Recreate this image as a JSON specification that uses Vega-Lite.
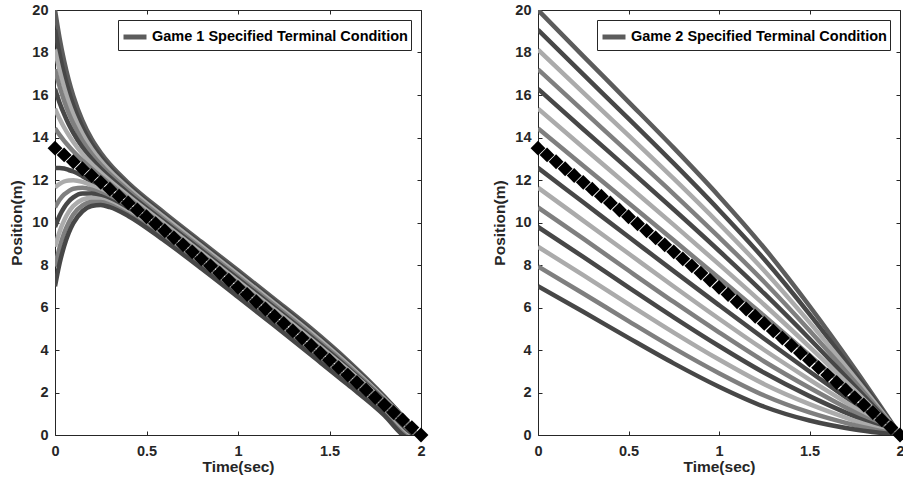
{
"$schema": "https://vega.github.io/schema/vega-lite/v6.json",
"background": "white",
"padding": {"left": 9, "top": 2, "right": 0, "bottom": 0},
"spacing": 63,
"config": {
  "view": {"stroke": null},
  "font": "Liberation Sans",
  "axis": {"grid": false, "domainColor": "#262626", "tickColor": "#262626", "labelColor": "#262626", "titleColor": "#262626", "labelFont": "Liberation Sans", "titleFont": "Liberation Sans", "labelFontWeight": "bold", "titleFontWeight": "bold", "labelFontSize": 14.5, "titleFontSize": 15.5, "tickSize": -4, "labelFlush": false, "labelOverlap": false, "domainWidth": 1, "tickWidth": 1},
  "axisX": {"labelPadding": 13, "titlePadding": 2},
  "axisY": {"labelPadding": 11, "titlePadding": 7},
  "legend": {"orient": "top-right", "offset": 10, "padding": 3, "strokeColor": "#262626", "fillColor": "white", "symbolType": "stroke", "symbolSize": 529, "symbolStrokeWidth": 5, "labelFont": "Liberation Sans", "labelFontWeight": "bold", "labelFontSize": 14.5, "labelColor": "black", "labelLimit": 400, "labelOffset": 3}
},
"datasets": {
"dia": [
{"t":0,"v":13.5},{"t":0.05,"v":13.18},{"t":0.1,"v":12.86},{"t":0.15,"v":12.53},{"t":0.2,"v":12.21},{"t":0.25,"v":11.89},{"t":0.3,"v":11.57},{"t":0.35,"v":11.24},{"t":0.4,"v":10.92},{"t":0.45,"v":10.59},{"t":0.5,"v":10.27},{"t":0.55,"v":9.94},{"t":0.6,"v":9.61},{"t":0.65,"v":9.28},{"t":0.7,"v":8.95},{"t":0.75,"v":8.62},{"t":0.8,"v":8.29},{"t":0.85,"v":7.96},{"t":0.9,"v":7.62},{"t":0.95,"v":7.29},{"t":1,"v":6.95},{"t":1.05,"v":6.61},{"t":1.1,"v":6.27},{"t":1.15,"v":5.93},{"t":1.2,"v":5.59},{"t":1.25,"v":5.25},{"t":1.3,"v":4.9},{"t":1.35,"v":4.56},{"t":1.4,"v":4.21},{"t":1.45,"v":3.86},{"t":1.5,"v":3.52},{"t":1.55,"v":3.17},{"t":1.6,"v":2.82},{"t":1.65,"v":2.47},{"t":1.7,"v":2.12},{"t":1.75,"v":1.76},{"t":1.8,"v":1.41},{"t":1.85,"v":1.06},{"t":1.9,"v":0.71},{"t":1.95,"v":0.35},{"t":2,"v":0}
],
"g1": [
{"c":14,"t":0,"v":20},{"c":14,"t":0.025,"v":18.68},{"c":14,"t":0.05,"v":17.6},{"c":14,"t":0.075,"v":16.7},{"c":14,"t":0.1,"v":15.96},{"c":14,"t":0.15,"v":14.79},{"c":14,"t":0.2,"v":13.93},{"c":14,"t":0.25,"v":13.28},{"c":14,"t":0.3,"v":12.74},{"c":14,"t":0.4,"v":11.87},{"c":14,"t":0.6,"v":10.44},{"c":14,"t":0.8,"v":9.09},{"c":14,"t":1,"v":7.75},{"c":14,"t":1.2,"v":6.39},{"c":14,"t":1.4,"v":5.01},{"c":14,"t":1.6,"v":3.5},{"c":14,"t":1.8,"v":1.81},{"c":14,"t":1.9,"v":0.87},{"c":14,"t":2,"v":-0.25},
{"c":13,"t":0,"v":19.07},{"c":13,"t":0.025,"v":17.92},{"c":13,"t":0.05,"v":16.97},{"c":13,"t":0.075,"v":16.18},{"c":13,"t":0.1,"v":15.52},{"c":13,"t":0.15,"v":14.48},{"c":13,"t":0.2,"v":13.7},{"c":13,"t":0.25,"v":13.09},{"c":13,"t":0.3,"v":12.59},{"c":13,"t":0.4,"v":11.75},{"c":13,"t":0.6,"v":10.33},{"c":13,"t":0.8,"v":8.99},{"c":13,"t":1,"v":7.65},{"c":13,"t":1.2,"v":6.29},{"c":13,"t":1.4,"v":4.91},{"c":13,"t":1.6,"v":3.42},{"c":13,"t":1.8,"v":1.76},{"c":13,"t":1.9,"v":0.85},{"c":13,"t":2,"v":-0.25},
{"c":12,"t":0,"v":18.14},{"c":12,"t":0.025,"v":17.16},{"c":12,"t":0.05,"v":16.35},{"c":12,"t":0.075,"v":15.66},{"c":12,"t":0.1,"v":15.09},{"c":12,"t":0.15,"v":14.17},{"c":12,"t":0.2,"v":13.47},{"c":12,"t":0.25,"v":12.91},{"c":12,"t":0.3,"v":12.43},{"c":12,"t":0.4,"v":11.63},{"c":12,"t":0.6,"v":10.23},{"c":12,"t":0.8,"v":8.89},{"c":12,"t":1,"v":7.55},{"c":12,"t":1.2,"v":6.19},{"c":12,"t":1.4,"v":4.81},{"c":12,"t":1.6,"v":3.33},{"c":12,"t":1.8,"v":1.71},{"c":12,"t":1.9,"v":0.83},{"c":12,"t":2,"v":-0.25},
{"c":11,"t":0,"v":17.21},{"c":11,"t":0.025,"v":16.4},{"c":11,"t":0.05,"v":15.72},{"c":11,"t":0.075,"v":15.14},{"c":11,"t":0.1,"v":14.66},{"c":11,"t":0.15,"v":13.85},{"c":11,"t":0.2,"v":13.23},{"c":11,"t":0.25,"v":12.72},{"c":11,"t":0.3,"v":12.28},{"c":11,"t":0.4,"v":11.51},{"c":11,"t":0.6,"v":10.12},{"c":11,"t":0.8,"v":8.79},{"c":11,"t":1,"v":7.45},{"c":11,"t":1.2,"v":6.09},{"c":11,"t":1.4,"v":4.71},{"c":11,"t":1.6,"v":3.25},{"c":11,"t":1.8,"v":1.66},{"c":11,"t":1.9,"v":0.81},{"c":11,"t":2,"v":-0.25},
{"c":10,"t":0,"v":16.29},{"c":10,"t":0.025,"v":15.64},{"c":10,"t":0.05,"v":15.1},{"c":10,"t":0.075,"v":14.62},{"c":10,"t":0.1,"v":14.22},{"c":10,"t":0.15,"v":13.54},{"c":10,"t":0.2,"v":13},{"c":10,"t":0.25,"v":12.54},{"c":10,"t":0.3,"v":12.13},{"c":10,"t":0.4,"v":11.38},{"c":10,"t":0.6,"v":10.02},{"c":10,"t":0.8,"v":8.69},{"c":10,"t":1,"v":7.35},{"c":10,"t":1.2,"v":5.99},{"c":10,"t":1.4,"v":4.61},{"c":10,"t":1.6,"v":3.16},{"c":10,"t":1.8,"v":1.61},{"c":10,"t":1.9,"v":0.79},{"c":10,"t":2,"v":-0.25},
{"c":9,"t":0,"v":15.36},{"c":9,"t":0.025,"v":14.88},{"c":9,"t":0.05,"v":14.47},{"c":9,"t":0.075,"v":14.11},{"c":9,"t":0.1,"v":13.79},{"c":9,"t":0.15,"v":13.23},{"c":9,"t":0.2,"v":12.76},{"c":9,"t":0.25,"v":12.35},{"c":9,"t":0.3,"v":11.97},{"c":9,"t":0.4,"v":11.26},{"c":9,"t":0.6,"v":9.92},{"c":9,"t":0.8,"v":8.59},{"c":9,"t":1,"v":7.25},{"c":9,"t":1.2,"v":5.89},{"c":9,"t":1.4,"v":4.51},{"c":9,"t":1.6,"v":3.08},{"c":9,"t":1.8,"v":1.56},{"c":9,"t":1.9,"v":0.77},{"c":9,"t":2,"v":-0.25},
{"c":8,"t":0,"v":14.43},{"c":8,"t":0.025,"v":14.12},{"c":8,"t":0.05,"v":13.84},{"c":8,"t":0.075,"v":13.59},{"c":8,"t":0.1,"v":13.35},{"c":8,"t":0.15,"v":12.92},{"c":8,"t":0.2,"v":12.53},{"c":8,"t":0.25,"v":12.17},{"c":8,"t":0.3,"v":11.82},{"c":8,"t":0.4,"v":11.14},{"c":8,"t":0.6,"v":9.81},{"c":8,"t":0.8,"v":8.49},{"c":8,"t":1,"v":7.15},{"c":8,"t":1.2,"v":5.79},{"c":8,"t":1.4,"v":4.41},{"c":8,"t":1.6,"v":2.99},{"c":8,"t":1.8,"v":1.51},{"c":8,"t":1.9,"v":0.75},{"c":8,"t":2,"v":-0.25},
{"c":6,"t":0,"v":12.57},{"c":6,"t":0.025,"v":12.57},{"c":6,"t":0.05,"v":12.54},{"c":6,"t":0.075,"v":12.47},{"c":6,"t":0.1,"v":12.4},{"c":6,"t":0.15,"v":12.18},{"c":6,"t":0.2,"v":11.93},{"c":6,"t":0.25,"v":11.66},{"c":6,"t":0.3,"v":11.37},{"c":6,"t":0.4,"v":10.75},{"c":6,"t":0.6,"v":9.46},{"c":6,"t":0.8,"v":8.14},{"c":6,"t":1,"v":6.8},{"c":6,"t":1.2,"v":5.44},{"c":6,"t":1.4,"v":4.06},{"c":6,"t":1.6,"v":2.67},{"c":6,"t":1.8,"v":1.25},{"c":6,"t":1.9,"v":0.47},{"c":6,"t":2,"v":-0.5},
{"c":5,"t":0,"v":11.64},{"c":5,"t":0.025,"v":11.82},{"c":5,"t":0.05,"v":11.93},{"c":5,"t":0.075,"v":11.98},{"c":5,"t":0.1,"v":11.99},{"c":5,"t":0.15,"v":11.91},{"c":5,"t":0.2,"v":11.74},{"c":5,"t":0.25,"v":11.52},{"c":5,"t":0.3,"v":11.26},{"c":5,"t":0.4,"v":10.68},{"c":5,"t":0.6,"v":9.4},{"c":5,"t":0.8,"v":8.09},{"c":5,"t":1,"v":6.75},{"c":5,"t":1.2,"v":5.39},{"c":5,"t":1.4,"v":4.01},{"c":5,"t":1.6,"v":2.62},{"c":5,"t":1.8,"v":1.19},{"c":5,"t":1.9,"v":0.39},{"c":5,"t":2,"v":-0.5},
{"c":4,"t":0,"v":10.71},{"c":4,"t":0.025,"v":11.07},{"c":4,"t":0.05,"v":11.32},{"c":4,"t":0.075,"v":11.48},{"c":4,"t":0.1,"v":11.59},{"c":4,"t":0.15,"v":11.63},{"c":4,"t":0.2,"v":11.55},{"c":4,"t":0.25,"v":11.38},{"c":4,"t":0.3,"v":11.15},{"c":4,"t":0.4,"v":10.6},{"c":4,"t":0.6,"v":9.35},{"c":4,"t":0.8,"v":8.04},{"c":4,"t":1,"v":6.7},{"c":4,"t":1.2,"v":5.34},{"c":4,"t":1.4,"v":3.96},{"c":4,"t":1.6,"v":2.57},{"c":4,"t":1.8,"v":1.14},{"c":4,"t":1.9,"v":0.32},{"c":4,"t":2,"v":-0.5},
{"c":3,"t":0,"v":9.79},{"c":3,"t":0.025,"v":10.32},{"c":3,"t":0.05,"v":10.71},{"c":3,"t":0.075,"v":10.99},{"c":3,"t":0.1,"v":11.18},{"c":3,"t":0.15,"v":11.36},{"c":3,"t":0.2,"v":11.36},{"c":3,"t":0.25,"v":11.24},{"c":3,"t":0.3,"v":11.05},{"c":3,"t":0.4,"v":10.53},{"c":3,"t":0.6,"v":9.3},{"c":3,"t":0.8,"v":7.99},{"c":3,"t":1,"v":6.65},{"c":3,"t":1.2,"v":5.29},{"c":3,"t":1.4,"v":3.91},{"c":3,"t":1.6,"v":2.52},{"c":3,"t":1.8,"v":1.08},{"c":3,"t":1.9,"v":0.24},{"c":3,"t":2,"v":-0.5},
{"c":2,"t":0,"v":8.86},{"c":2,"t":0.025,"v":9.57},{"c":2,"t":0.05,"v":10.1},{"c":2,"t":0.075,"v":10.5},{"c":2,"t":0.1,"v":10.78},{"c":2,"t":0.15,"v":11.08},{"c":2,"t":0.2,"v":11.17},{"c":2,"t":0.25,"v":11.1},{"c":2,"t":0.3,"v":10.94},{"c":2,"t":0.4,"v":10.46},{"c":2,"t":0.6,"v":9.24},{"c":2,"t":0.8,"v":7.94},{"c":2,"t":1,"v":6.6},{"c":2,"t":1.2,"v":5.24},{"c":2,"t":1.4,"v":3.86},{"c":2,"t":1.6,"v":2.47},{"c":2,"t":1.8,"v":1.03},{"c":2,"t":1.9,"v":0.16},{"c":2,"t":2,"v":-0.5},
{"c":1,"t":0,"v":7.93},{"c":1,"t":0.025,"v":8.82},{"c":1,"t":0.05,"v":9.5},{"c":1,"t":0.075,"v":10},{"c":1,"t":0.1,"v":10.38},{"c":1,"t":0.15,"v":10.81},{"c":1,"t":0.2,"v":10.97},{"c":1,"t":0.25,"v":10.96},{"c":1,"t":0.3,"v":10.83},{"c":1,"t":0.4,"v":10.38},{"c":1,"t":0.6,"v":9.19},{"c":1,"t":0.8,"v":7.89},{"c":1,"t":1,"v":6.55},{"c":1,"t":1.2,"v":5.19},{"c":1,"t":1.4,"v":3.81},{"c":1,"t":1.6,"v":2.42},{"c":1,"t":1.8,"v":0.97},{"c":1,"t":1.9,"v":0.08},{"c":1,"t":2,"v":-0.5},
{"c":0,"t":0,"v":7},{"c":0,"t":0.025,"v":8.07},{"c":0,"t":0.05,"v":8.89},{"c":0,"t":0.075,"v":9.51},{"c":0,"t":0.1,"v":9.97},{"c":0,"t":0.15,"v":10.53},{"c":0,"t":0.2,"v":10.78},{"c":0,"t":0.25,"v":10.82},{"c":0,"t":0.3,"v":10.72},{"c":0,"t":0.4,"v":10.31},{"c":0,"t":0.6,"v":9.13},{"c":0,"t":0.8,"v":7.84},{"c":0,"t":1,"v":6.5},{"c":0,"t":1.2,"v":5.14},{"c":0,"t":1.4,"v":3.76},{"c":0,"t":1.6,"v":2.37},{"c":0,"t":1.8,"v":0.92},{"c":0,"t":1.9,"v":0},{"c":0,"t":2,"v":-0.5}
],
"g2": [
{"c":14,"t":0,"v":20},{"c":14,"t":0.25,"v":17.83},{"c":14,"t":0.5,"v":15.68},{"c":14,"t":0.75,"v":13.51},{"c":14,"t":1,"v":11.24},{"c":14,"t":1.25,"v":8.8},{"c":14,"t":1.5,"v":6.07},{"c":14,"t":1.75,"v":3.12},{"c":14,"t":2,"v":0},
{"c":13,"t":0,"v":19.07},{"c":13,"t":0.25,"v":16.97},{"c":13,"t":0.5,"v":14.89},{"c":13,"t":0.75,"v":12.78},{"c":13,"t":1,"v":10.59},{"c":13,"t":1.25,"v":8.27},{"c":13,"t":1.5,"v":5.69},{"c":13,"t":1.75,"v":2.91},{"c":13,"t":2,"v":0},
{"c":12,"t":0,"v":18.14},{"c":12,"t":0.25,"v":16.11},{"c":12,"t":0.5,"v":14.1},{"c":12,"t":0.75,"v":12.06},{"c":12,"t":1,"v":9.95},{"c":12,"t":1.25,"v":7.73},{"c":12,"t":1.5,"v":5.3},{"c":12,"t":1.75,"v":2.71},{"c":12,"t":2,"v":0},
{"c":11,"t":0,"v":17.21},{"c":11,"t":0.25,"v":15.25},{"c":11,"t":0.5,"v":13.3},{"c":11,"t":0.75,"v":11.34},{"c":11,"t":1,"v":9.31},{"c":11,"t":1.25,"v":7.2},{"c":11,"t":1.5,"v":4.92},{"c":11,"t":1.75,"v":2.51},{"c":11,"t":2,"v":0},
{"c":10,"t":0,"v":16.29},{"c":10,"t":0.25,"v":14.39},{"c":10,"t":0.5,"v":12.51},{"c":10,"t":0.75,"v":10.61},{"c":10,"t":1,"v":8.67},{"c":10,"t":1.25,"v":6.66},{"c":10,"t":1.5,"v":4.53},{"c":10,"t":1.75,"v":2.3},{"c":10,"t":2,"v":0},
{"c":9,"t":0,"v":15.36},{"c":9,"t":0.25,"v":13.53},{"c":9,"t":0.5,"v":11.71},{"c":9,"t":0.75,"v":9.89},{"c":9,"t":1,"v":8.03},{"c":9,"t":1.25,"v":6.13},{"c":9,"t":1.5,"v":4.15},{"c":9,"t":1.75,"v":2.1},{"c":9,"t":2,"v":0},
{"c":8,"t":0,"v":14.43},{"c":8,"t":0.25,"v":12.67},{"c":8,"t":0.5,"v":10.92},{"c":8,"t":0.75,"v":9.16},{"c":8,"t":1,"v":7.39},{"c":8,"t":1.25,"v":5.6},{"c":8,"t":1.5,"v":3.76},{"c":8,"t":1.75,"v":1.89},{"c":8,"t":2,"v":0},
{"c":6,"t":0,"v":12.57},{"c":6,"t":0.25,"v":10.95},{"c":6,"t":0.5,"v":9.33},{"c":6,"t":0.75,"v":7.71},{"c":6,"t":1,"v":6.11},{"c":6,"t":1.25,"v":4.53},{"c":6,"t":1.5,"v":2.99},{"c":6,"t":1.75,"v":1.48},{"c":6,"t":2,"v":0},
{"c":5,"t":0,"v":11.64},{"c":5,"t":0.25,"v":10.09},{"c":5,"t":0.5,"v":8.54},{"c":5,"t":0.75,"v":6.99},{"c":5,"t":1,"v":5.47},{"c":5,"t":1.25,"v":4},{"c":5,"t":1.5,"v":2.61},{"c":5,"t":1.75,"v":1.28},{"c":5,"t":2,"v":0},
{"c":4,"t":0,"v":10.71},{"c":4,"t":0.25,"v":9.24},{"c":4,"t":0.5,"v":7.74},{"c":4,"t":0.75,"v":6.26},{"c":4,"t":1,"v":4.83},{"c":4,"t":1.25,"v":3.46},{"c":4,"t":1.5,"v":2.22},{"c":4,"t":1.75,"v":1.07},{"c":4,"t":2,"v":0},
{"c":3,"t":0,"v":9.79},{"c":3,"t":0.25,"v":8.38},{"c":3,"t":0.5,"v":6.95},{"c":3,"t":0.75,"v":5.54},{"c":3,"t":1,"v":4.19},{"c":3,"t":1.25,"v":2.93},{"c":3,"t":1.5,"v":1.83},{"c":3,"t":1.75,"v":0.87},{"c":3,"t":2,"v":0},
{"c":2,"t":0,"v":8.86},{"c":2,"t":0.25,"v":7.52},{"c":2,"t":0.5,"v":6.16},{"c":2,"t":0.75,"v":4.82},{"c":2,"t":1,"v":3.55},{"c":2,"t":1.25,"v":2.39},{"c":2,"t":1.5,"v":1.45},{"c":2,"t":1.75,"v":0.67},{"c":2,"t":2,"v":0},
{"c":1,"t":0,"v":7.93},{"c":1,"t":0.25,"v":6.66},{"c":1,"t":0.5,"v":5.36},{"c":1,"t":0.75,"v":4.09},{"c":1,"t":1,"v":2.91},{"c":1,"t":1.25,"v":1.86},{"c":1,"t":1.5,"v":1.06},{"c":1,"t":1.75,"v":0.46},{"c":1,"t":2,"v":0},
{"c":0,"t":0,"v":7},{"c":0,"t":0.25,"v":5.8},{"c":0,"t":0.5,"v":4.57},{"c":0,"t":0.75,"v":3.37},{"c":0,"t":1,"v":2.27},{"c":0,"t":1.25,"v":1.33},{"c":0,"t":1.5,"v":0.68},{"c":0,"t":1.75,"v":0.26},{"c":0,"t":2,"v":0}
]
},
"hconcat": [
{
  "width": 366, "height": 425,
  "layer": [
    {"data": {"name": "g1"}, "transform": [{"filter": "datum.c == 14"}],
     "mark": {"type": "line", "strokeWidth": 4.5, "clip": true, "interpolate": "monotone"},
     "encoding": {
       "x": {"field": "t", "type": "quantitative", "scale": {"domain": [0, 2], "nice": false, "zero": false}, "axis": {"orient": "bottom", "values": [0, 0.5, 1, 1.5, 2], "format": "~g", "title": "Time(sec)"}},
       "y": {"field": "v", "type": "quantitative", "scale": {"domain": [0, 20], "nice": false, "zero": false}, "axis": {"orient": "left", "values": [0,2,4,6,8,10,12,14,16,18,20], "title": "Position(m)"}},
       "color": {"datum": "Game 1 Specified Terminal Condition", "scale": {"range": ["#5c5c5c"]}, "legend": {"title": null}}
     }},
    {"data": {"name": "g1"}, "transform": [{"filter": "datum.c != 14"}],
     "mark": {"type": "line", "strokeWidth": 4.5, "clip": true, "interpolate": "monotone"},
     "encoding": {
       "x": {"field": "t", "type": "quantitative", "axis": null},
       "y": {"field": "v", "type": "quantitative", "axis": null},
       "stroke": {"field": "c", "type": "nominal", "scale": {"domain": [13,12,11,10,9,8,6,5,4,3,2,1,0], "range": ["#474747","#ababab","#7f7f7f","#474747","#ababab","#7f7f7f","#474747","#ababab","#7f7f7f","#474747","#ababab","#7f7f7f","#474747"]}, "legend": null}
     }},
    {"data": {"name": "dia"},
     "mark": {"type": "point", "shape": "diamond", "filled": true, "size": 220, "color": "black", "opacity": 1},
     "encoding": {
       "x": {"field": "t", "type": "quantitative", "axis": {"orient": "top", "labels": false, "title": null, "values": [0, 0.5, 1, 1.5, 2]}},
       "y": {"field": "v", "type": "quantitative", "axis": {"orient": "right", "labels": false, "title": null, "values": [0,2,4,6,8,10,12,14,16,18,20]}}
     }}
  ],
  "resolve": {"axis": {"x": "independent", "y": "independent"}}
},
{
  "width": 362, "height": 425,
  "layer": [
    {"data": {"name": "g2"}, "transform": [{"filter": "datum.c == 14"}],
     "mark": {"type": "line", "strokeWidth": 4.5, "clip": true, "interpolate": "monotone"},
     "encoding": {
       "x": {"field": "t", "type": "quantitative", "scale": {"domain": [0, 2], "nice": false, "zero": false}, "axis": {"orient": "bottom", "values": [0, 0.5, 1, 1.5, 2], "format": "~g", "title": "Time(sec)"}},
       "y": {"field": "v", "type": "quantitative", "scale": {"domain": [0, 20], "nice": false, "zero": false}, "axis": {"orient": "left", "values": [0,2,4,6,8,10,12,14,16,18,20], "title": "Position(m)"}},
       "color": {"datum": "Game 2 Specified Terminal Condition", "scale": {"range": ["#5c5c5c"]}, "legend": {"title": null}}
     }},
    {"data": {"name": "g2"}, "transform": [{"filter": "datum.c != 14"}],
     "mark": {"type": "line", "strokeWidth": 4.5, "clip": true, "interpolate": "monotone"},
     "encoding": {
       "x": {"field": "t", "type": "quantitative", "axis": null},
       "y": {"field": "v", "type": "quantitative", "axis": null},
       "stroke": {"field": "c", "type": "nominal", "scale": {"domain": [13,12,11,10,9,8,6,5,4,3,2,1,0], "range": ["#474747","#ababab","#7f7f7f","#474747","#ababab","#7f7f7f","#474747","#ababab","#7f7f7f","#474747","#ababab","#7f7f7f","#474747"]}, "legend": null}
     }},
    {"data": {"name": "dia"},
     "mark": {"type": "point", "shape": "diamond", "filled": true, "size": 220, "color": "black", "opacity": 1},
     "encoding": {
       "x": {"field": "t", "type": "quantitative", "axis": {"orient": "top", "labels": false, "title": null, "values": [0, 0.5, 1, 1.5, 2]}},
       "y": {"field": "v", "type": "quantitative", "axis": {"orient": "right", "labels": false, "title": null, "values": [0,2,4,6,8,10,12,14,16,18,20]}}
     }}
  ],
  "resolve": {"axis": {"x": "independent", "y": "independent"}}
}
],
"resolve": {"scale": {"color": "independent"}, "legend": {"color": "independent"}}
}
